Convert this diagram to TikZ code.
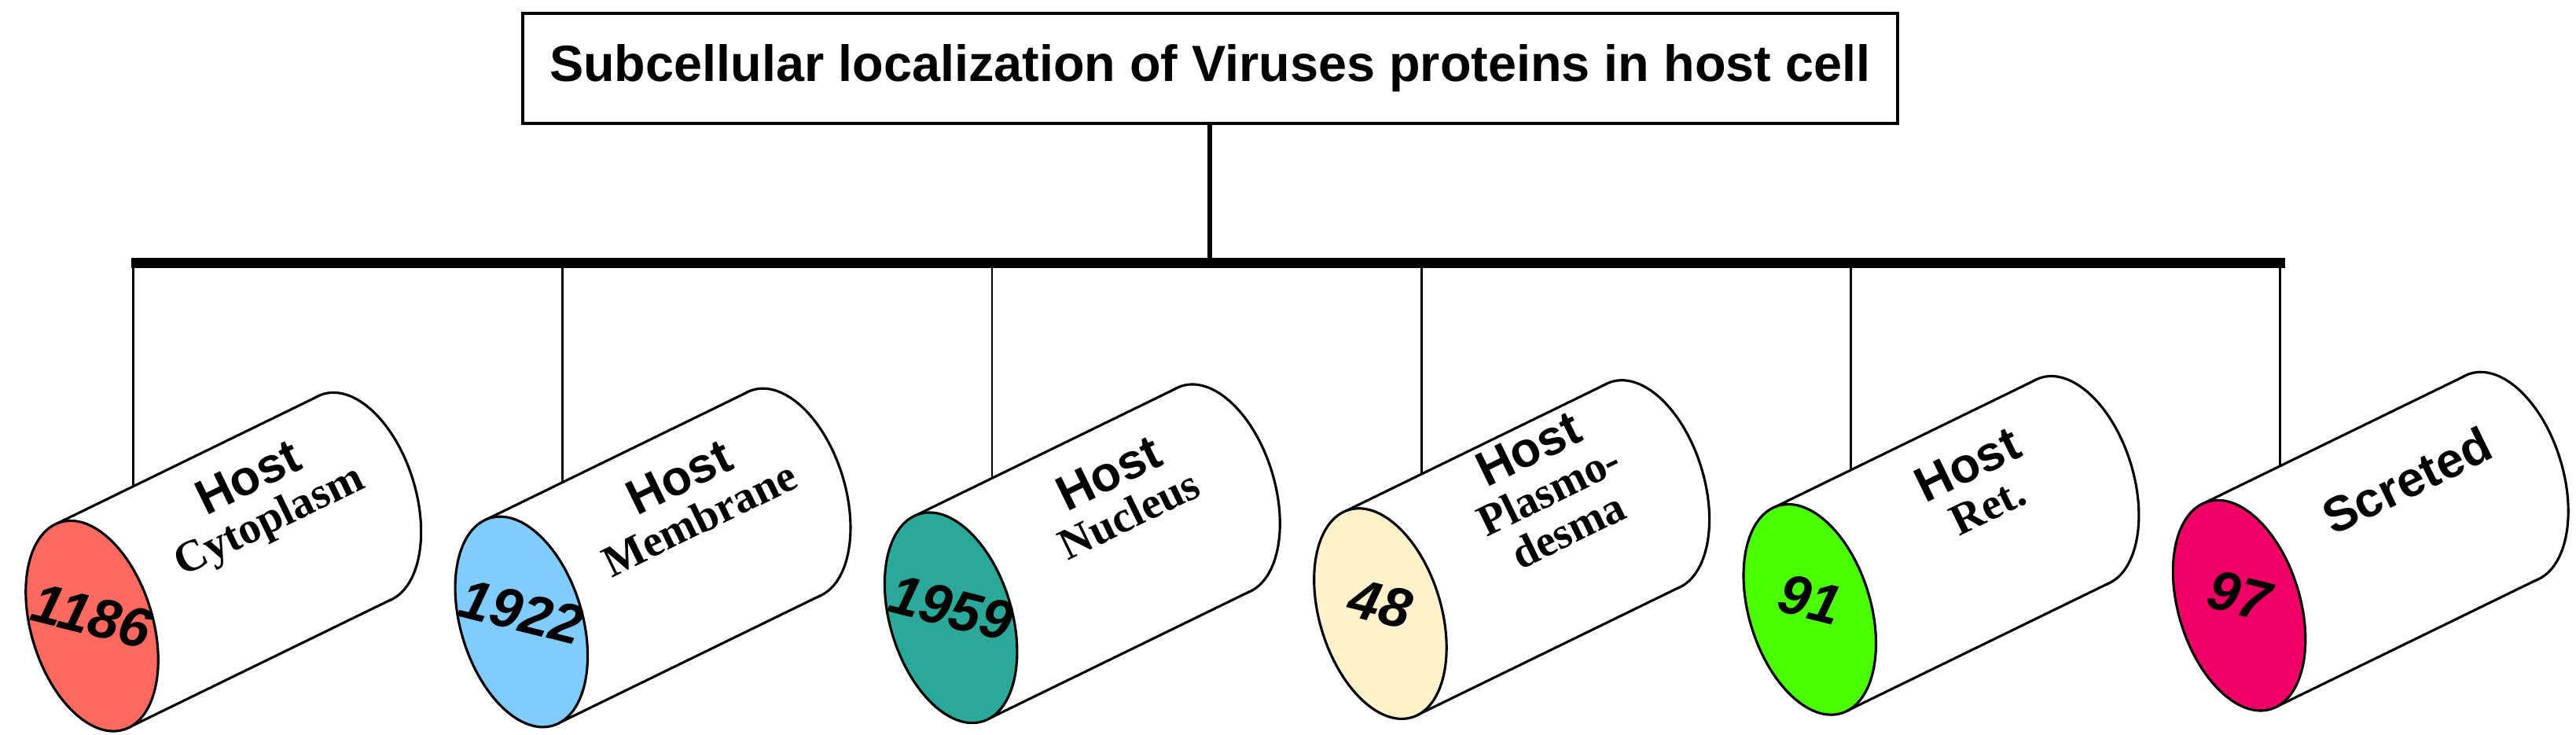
\documentclass[tikz,border=0pt]{standalone}
\usepackage{fontspec}
\setmainfont{Liberation Serif}
\setsansfont{Liberation Sans}
\usetikzlibrary{calc}
\definecolor{cA}{HTML}{FF6A60}
\definecolor{cB}{HTML}{80CCFF}
\definecolor{cC}{HTML}{2AA89A}
\definecolor{cD}{HTML}{FFF2CC}
\definecolor{cE}{HTML}{4CFF00}
\definecolor{cF}{HTML}{EE0066}
\begin{document}
\begin{tikzpicture}[x=1pt,y=1pt,
  numf/.style={font=\sffamily\bfseries\itshape\fontsize{34}{36}\selectfont},
  cyltext/.style={rotate=26,align=center,inner sep=0pt},
  outline/.style={line width=1.5pt},
  drop/.style={line width=1.3pt}]
\useasboundingbox (0,0) rectangle (1568,447);
\node[draw,line width=2pt,minimum width=837pt,minimum height=67pt,
  font=\sffamily\bfseries\fontsize{31}{34}\selectfont] (title) at (736.5,405.5)
  {Subcellular localization of Viruses proteins in host cell};
\coordinate (bl) at (80,287);
\coordinate (br) at (1391,287);
\draw[line width=6pt] (bl) -- (br);
\draw[line width=3pt] (title.south) -- (title.south |- bl);
\foreach \i/\col/\num/\txt in {
  0/cA/1186/{{\sffamily\bfseries\fontsize{30}{32}\selectfont Host}\\[-2pt]Cytoplasm},
  1/cB/1922/{{\sffamily\bfseries\fontsize{30}{32}\selectfont Host}\\[-2pt]Membrane},
  2/cC/1959/{{\sffamily\bfseries\fontsize{30}{32}\selectfont Host}\\[-2pt]Nucleus},
  3/cD/48/{{\sffamily\bfseries\fontsize{30}{32}\selectfont Host}\\[-2pt]Plasmo-\\[-2pt]desma},
  4/cE/91/{{\sffamily\bfseries\fontsize{30}{32}\selectfont Host}\\[-2pt]Ret.},
  5/cF/97/{{\sffamily\bfseries\fontsize{30}{32}\selectfont Screted}}}{
  \pgfmathsetmacro{\cx}{56+261.4*\i}
  \pgfmathsetmacro{\cy}{66+2.5*\i}
  \coordinate (c\i) at (\cx,\cy);
  \coordinate (b\i) at ($(c\i)+(160,78)$);
  \draw[outline,fill=white,rotate around={17:(b\i)}] (b\i) ellipse [x radius=37, y radius=66];
  \fill[white] ($(c\i)+(-22.4,61.8)$) -- ($(b\i)+(-22.4,61.8)$) -- ($(b\i)+(22.4,-61.8)$) -- ($(c\i)+(22.4,-61.8)$) -- cycle;
  \draw[outline] ($(c\i)+(-22.4,61.8)$) -- ($(b\i)+(-22.4,61.8)$);
  \draw[outline] ($(c\i)+(22.4,-61.8)$) -- ($(b\i)+(22.4,-61.8)$);
  \draw[outline,fill=\col,rotate around={17:(c\i)}] (c\i) ellipse [x radius=37, y radius=66];
  \node[numf,rotate=-14] (n\i) at ($(c\i)+(0,6)$) {\num};
  \node[cyltext,font=\rmfamily\bfseries\fontsize{27}{29}\selectfont] (l\i) at ($(c\i)+(102,76)$) {\txt};
  \coordinate (d\i) at ($(c\i)+(25,84.9)$);
  \draw[drop] (d\i |- bl) -- (d\i);
}
\end{tikzpicture}
\end{document}
